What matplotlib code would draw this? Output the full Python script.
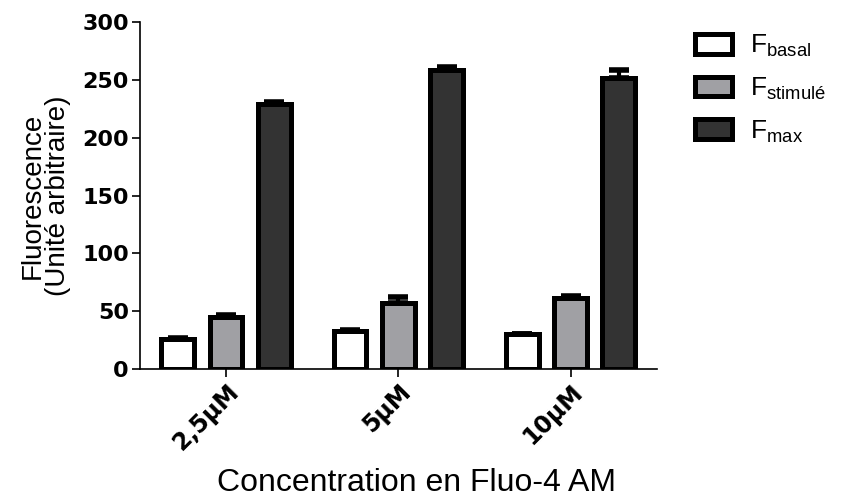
import numpy as np
import matplotlib
matplotlib.use("Agg")
import matplotlib.pyplot as plt
import matplotlib.transforms as mtransforms

plt.rcParams['font.family'] = ['Liberation Sans', 'DejaVu Sans']
plt.rcParams['mathtext.fontset'] = 'custom'
plt.rcParams['mathtext.rm'] = 'Liberation Sans'
plt.rcParams['mathtext.it'] = 'Liberation Sans'

concentrations = ['2,5µM', '5µM', '10µM']
series_names = ['F$_{\\mathregular{basal}}$', 'F$_{\\mathregular{stimulé}}$', 'F$_{\\mathregular{max}}$']
f_basal = [26, 33, 30]
f_stimule = [45, 57, 61]
f_max = [229, 259, 252]
err_basal = [0.5, 1, 0.5]
err_stimule = [2, 5, 2]
err_max = [2, 2, 7]

colors = ['#ffffff', '#a0a0a4', '#333333']

fig = plt.figure(figsize=(8.43, 5.04), dpi=100)
ax = fig.add_axes([0.166, 0.268, 0.613, 0.688])

x = np.arange(len(concentrations))
width = 0.19
offset = 0.28
values = [f_basal, f_stimule, f_max]
errors = [err_basal, err_stimule, err_max]
for i in range(3):
    pos = x + (i - 1) * offset
    ax.errorbar(pos, values[i], yerr=[np.zeros(3), errors[i]], fmt='none',
                ecolor='black', elinewidth=3, capsize=7, capthick=4, zorder=2)
    ax.bar(pos, values[i], width, color=colors[i], edgecolor='black',
           linewidth=3.6, label=series_names[i], zorder=3)

ax.set_xlim(-0.5, 2.5)
ax.set_ylim(0, 300)
ax.set_yticks(range(0, 301, 50))
ax.set_xticks(x)
ax.set_xticklabels(concentrations, rotation=45, ha='right', rotation_mode='anchor',
                   fontweight='bold', fontsize=17, family='DejaVu Sans')
shift = mtransforms.ScaledTranslation(8 / 100, 0, fig.dpi_scale_trans)
for lab in ax.get_xticklabels():
    lab.set_transform(lab.get_transform() + shift)
for lab in ax.get_yticklabels():
    lab.set_fontweight('bold')
    lab.set_fontsize(16)
    lab.set_family('DejaVu Sans')
ax.spines['top'].set_visible(False)
ax.spines['right'].set_visible(False)
ax.spines['left'].set_linewidth(1.2)
ax.spines['bottom'].set_linewidth(1.2)
ax.tick_params(axis='both', direction='out', length=6, width=1.2, pad=2)

ax.set_ylabel('Fluorescence\n(Unité arbitraire)', fontsize=20, labelpad=8, linespacing=0.95)
ax.set_xlabel('Concentration en Fluo-4 AM', fontsize=23, labelpad=9)
ax.xaxis.label.set_x(0.535)

ax.legend(loc='upper left', bbox_to_anchor=(0.812, 0.955), bbox_transform=fig.transFigure,
          frameon=False, fontsize=19, handlelength=1.4, handleheight=0.75,
          labelspacing=0.62, handletextpad=0.7, borderaxespad=0)

fig.savefig('out.png', dpi=100)
